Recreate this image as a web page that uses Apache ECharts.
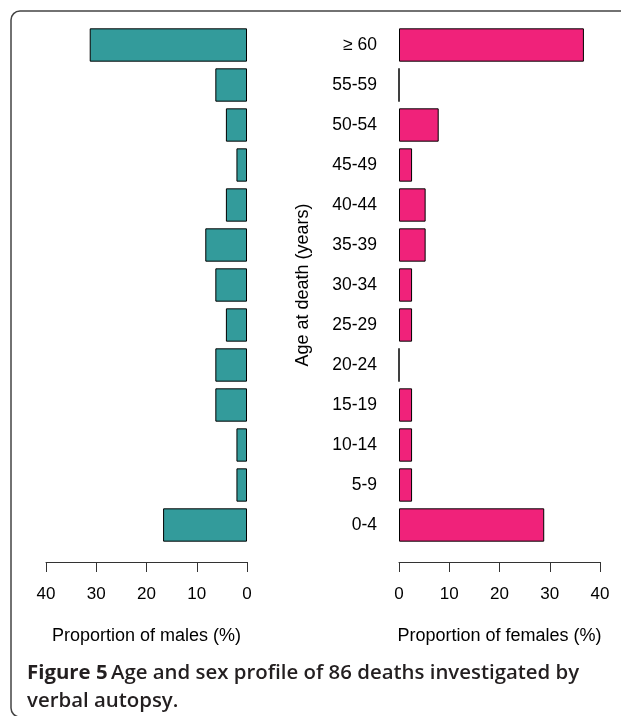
<!DOCTYPE html>
<html>
<head>
<meta charset="utf-8">
<script src="https://cdn.jsdelivr.net/npm/echarts@6/dist/echarts.min.js"></script>
<style>
html,body{margin:0;padding:0;background:#fff;}
#chart{width:621px;height:716px;}
</style>
</head>
<body>
<div id="chart"></div>
<script>
// Age groups, bottom to top
var ageGroups = ['0-4','5-9','10-14','15-19','20-24','25-29','30-34','35-39','40-44','45-49','50-54','55-59','\u2265 60'];
// Proportion of male deaths (%)
var malePct = [16.7, 2.1, 2.1, 6.3, 6.3, 4.2, 6.3, 8.3, 4.2, 2.1, 4.2, 6.3, 31.3];
// Proportion of female deaths (%)
var femalePct = [28.9, 2.6, 2.6, 2.6, 0, 2.6, 2.6, 5.3, 5.3, 2.6, 7.9, 0, 36.8];
var xTicks = [0, 10, 20, 30, 40];

var labelFont = 'Liberation Sans, Arial, sans-serif';
var chart = echarts.init(document.getElementById('chart'), null, {renderer:'canvas'});

function valueAxis(idx, inverse, name){
  return {
    type:'value', gridIndex: idx, min: xTicks[0], max: xTicks[xTicks.length-1], interval: 10,
    inverse: inverse, position:'bottom', offset: 17,
    axisLine:{show:true, lineStyle:{color:'#333', width:1}},
    axisTick:{show:true, length:10, inside:false, lineStyle:{color:'#333', width:1}},
    axisLabel:{show:true, margin:24, color:'#000', fontSize:17, fontFamily:labelFont},
    splitLine:{show:false},
    name: name, nameLocation:'middle', nameGap:65,
    nameTextStyle:{color:'#000', fontSize:18, fontFamily:labelFont}
  };
}

chart.setOption({
  animation:false,
  backgroundColor:'#fff',
  grid:[
    {left:46, width:201, top:25, height:520, containLabel:false},
    {left:399, width:201, top:25, height:520, containLabel:false}
  ],
  xAxis:[
    valueAxis(0, true, 'Proportion of males (%)'),
    valueAxis(1, false, 'Proportion of females (%)')
  ],
  yAxis:[
    {type:'category', gridIndex:0, data:ageGroups, axisLine:{show:false}, axisTick:{show:false}, axisLabel:{show:false}, splitLine:{show:false}},
    {type:'category', gridIndex:1, data:ageGroups, position:'left',
     axisLine:{show:false}, axisTick:{show:false},
     axisLabel:{show:true, margin:22, color:'#000', fontSize:17.5, fontFamily:labelFont},
     splitLine:{show:false},
     name:'Age at death (years)', nameLocation:'middle', nameRotate:90, nameGap:87,
     nameTextStyle:{color:'#000', fontSize:18, fontFamily:labelFont}}
  ],
  series:[
    {type:'bar', xAxisIndex:0, yAxisIndex:0, data:malePct, barWidth:'83.3%',
     itemStyle:{color:'#339b9b', borderColor:'#000', borderWidth:1}},
    {type:'bar', xAxisIndex:1, yAxisIndex:1, data:femalePct, barWidth:'83.3%',
     itemStyle:{color:'#f0227a', borderColor:'#000', borderWidth:1}}
  ],
  graphic:[
    {type:'rect', shape:{x:11, y:11, width:720, height:706, r:9},
     style:{fill:'none', stroke:'#444', lineWidth:1.5}, silent:true},
    {type:'text', left:27, top:663,
     style:{
       text:'{b|Figure 5} {n|Age and sex profile of 86 deaths investigated by}\n{n|verbal autopsy.}',
       rich:{
         b:{fontFamily:'Open Sans, sans-serif', fontWeight:700, fontSize:20.4, fill:'#231f20', lineHeight:28},
         n:{fontFamily:'Open Sans, sans-serif', fontWeight:600, fontSize:20.4, fill:'#231f20', lineHeight:28}
       }
     }}
  ]
});
</script>
</body>
</html>
